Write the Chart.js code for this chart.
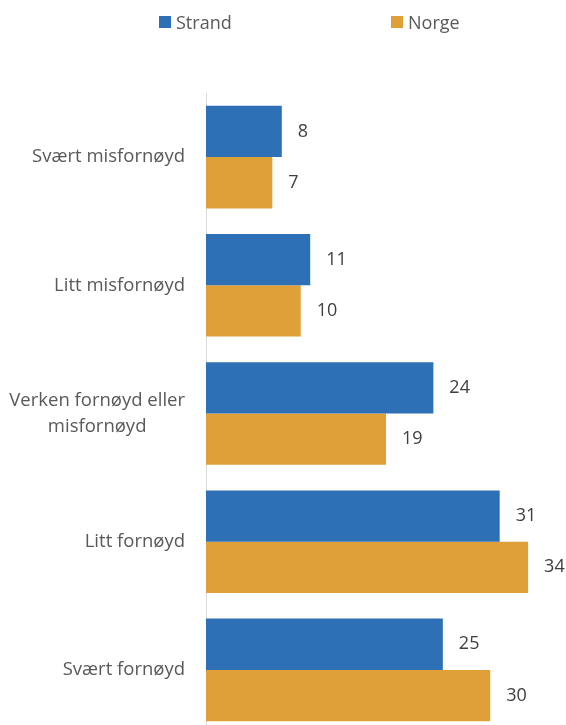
<!DOCTYPE html>
<html>
<head>
<meta charset="utf-8">
<script src="https://cdn.jsdelivr.net/npm/chart.js@4"></script>
<style>
  body { margin: 0; background: #fff; }
  #wrap { position: relative; width: 566px; height: 725px; overflow: hidden; }
  #legend { position: absolute; top: 10px; left: 0; width: 566px; height: 24px; font-family: "Open Sans", sans-serif; font-size: 18px; color: #595959; }
  .item { position: absolute; top: 0; display: flex; align-items: center; height: 24px; }
  .box { width: 12px; height: 12px; margin-right: 5px; }
  canvas { position: absolute; top: 0; left: 0; }
</style>
</head>
<body>
<div id="wrap">
  <canvas id="chart" width="566" height="734"></canvas>
  <div id="legend"></div>
</div>
<script>
document.addEventListener("DOMContentLoaded", function() {
    // Data
    const categories = [
        ["Svært misfornøyd"],
        ["Litt misfornøyd"],
        ["Verken fornøyd eller", "misfornøyd"],
        ["Litt fornøyd"],
        ["Svært fornøyd"]
    ];
    const seriesNames = ["Strand", "Norge"];
    const strandValues = [8, 11, 24, 31, 25];
    const norgeValues = [7, 10, 19, 34, 30];

    const BLUE = '#2E70B6';
    const ORANGE = '#E0A038';
    const FONT = '"Open Sans", sans-serif';

    // legend in html, spread out like the original
    const legend = document.getElementById("legend");
    const legendX = [159, 391];
    [BLUE, ORANGE].forEach(function(color, i) {
        const item = document.createElement("div");
        item.className = "item";
        item.style.left = legendX[i] + "px";
        item.innerHTML = `<span class="box" style="background:${color}"></span><span>${seriesNames[i]}</span>`;
        legend.appendChild(item);
    });

    // value labels to the right of each bar
    const valueLabels = {
        id: 'valueLabels',
        afterDatasetsDraw(chart) {
            const ctx = chart.ctx;
            ctx.save();
            ctx.font = '18px ' + FONT;
            ctx.fillStyle = '#404040';
            ctx.textAlign = 'left';
            ctx.textBaseline = 'middle';
            chart.data.datasets.forEach(function(ds, di) {
                chart.getDatasetMeta(di).data.forEach(function(bar, i) {
                    ctx.fillText(ds.data[i], bar.x + 16, bar.y);
                });
            });
            ctx.restore();
        }
    };

    // category labels: right aligned, wrapped ones centred on their block
    const categoryLabels = {
        id: 'categoryLabels',
        afterDraw(chart) {
            const ctx = chart.ctx;
            const yScale = chart.scales.y;
            const right = 185;
            const lineH = 26;
            ctx.save();
            ctx.font = '18.5px ' + FONT;
            ctx.fillStyle = '#595959';
            ctx.textBaseline = 'middle';
            categories.forEach(function(lines, i) {
                const cy = yScale.getPixelForValue(i);
                const maxW = Math.max.apply(null, lines.map(l => ctx.measureText(l).width));
                lines.forEach(function(line, j) {
                    const y = cy + (j - (lines.length - 1) / 2) * lineH;
                    if (lines.length === 1) {
                        ctx.textAlign = 'right';
                        ctx.fillText(line, right, y);
                    } else {
                        ctx.textAlign = 'center';
                        ctx.fillText(line, right - maxW / 2, y);
                    }
                });
            });
            ctx.restore();
        }
    };

    new Chart(document.getElementById("chart"), {
        type: "bar",
        data: {
            labels: categories,
            datasets: [
                { label: seriesNames[0], data: strandValues, backgroundColor: BLUE },
                { label: seriesNames[1], data: norgeValues, backgroundColor: ORANGE }
            ]
        },
        options: {
            indexAxis: 'y',
            responsive: false,
            animation: false,
            categoryPercentage: 0.8,
            barPercentage: 1.0,
            layout: { padding: { top: 93, left: 206, right: 0, bottom: 0 } },
            scales: {
                x: {
                    display: false,
                    min: 0,
                    max: 38
                },
                y: {
                    grid: { display: false, drawTicks: false, tickLength: 0 },
                    border: { display: true, color: '#D9D9D9', width: 1 },
                    ticks: { display: false, padding: 0 }
                }
            },
            plugins: {
                legend: { display: false },
                tooltip: { enabled: false }
            }
        },
        plugins: [valueLabels, categoryLabels]
    });
});
</script>
</body>
</html>
